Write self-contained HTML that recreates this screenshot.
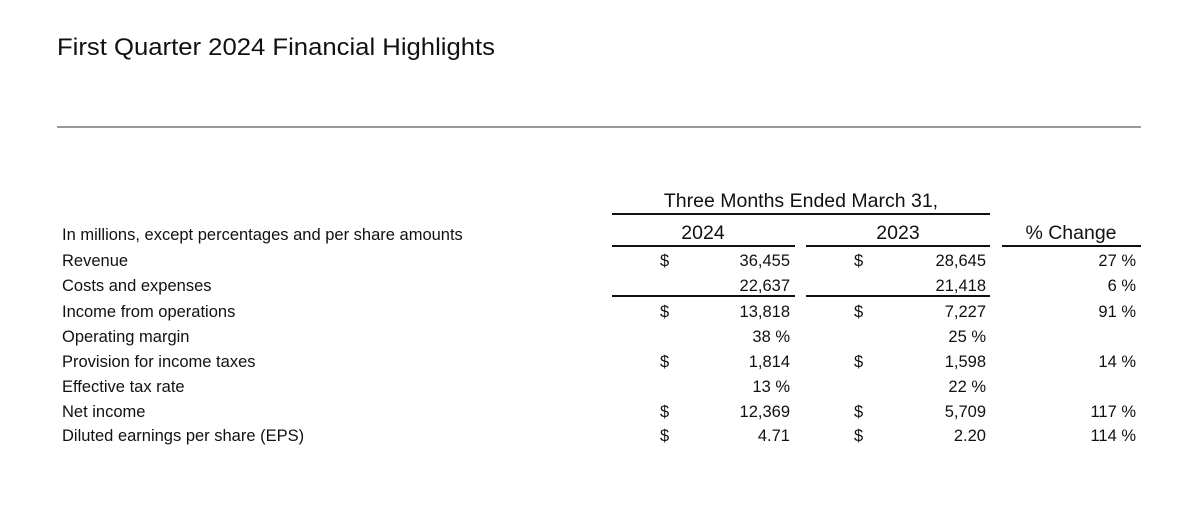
<!DOCTYPE html>
<html><head><meta charset="utf-8"><style>
html,body{margin:0;padding:0;background:#fff;}
svg text{font-family:"Liberation Sans",Arial,sans-serif;fill:#111;}
</style></head><body>
<svg width="1200" height="527" viewBox="0 0 1200 527" xmlns="http://www.w3.org/2000/svg">
<text x="57" y="55" font-size="24" textLength="438" lengthAdjust="spacingAndGlyphs" fill="#222">First Quarter 2024 Financial Highlights</text>
<rect x="57" y="126" width="1084" height="2" fill="#9a9a9a"/>
<g font-size="19.5">
<text x="801" y="207" text-anchor="middle">Three Months Ended March 31,</text>
<text x="703" y="239" text-anchor="middle">2024</text>
<text x="898" y="239" text-anchor="middle">2023</text>
<text x="1071" y="239" text-anchor="middle">% Change</text>
</g>
<rect x="612" y="213" width="378" height="2" fill="#111"/>
<rect x="612" y="245" width="183" height="2" fill="#111"/>
<rect x="806" y="245" width="184" height="2" fill="#111"/>
<rect x="1002" y="245" width="139" height="2" fill="#111"/>
<rect x="612" y="295" width="183" height="2" fill="#111"/>
<rect x="806" y="295" width="184" height="2" fill="#111"/>
<g font-size="16.5">
<text x="62" y="240">In millions, except percentages and per share amounts</text>
<text x="62" y="266">Revenue</text>
<text x="62" y="291">Costs and expenses</text>
<text x="62" y="317">Income from operations</text>
<text x="62" y="342">Operating margin</text>
<text x="62" y="367">Provision for income taxes</text>
<text x="62" y="392">Effective tax rate</text>
<text x="62" y="417">Net income</text>
<text x="62" y="441">Diluted earnings per share (EPS)</text>
</g>
<g font-size="16.5">
<text x="660" y="266">$</text><text x="854" y="266">$</text>
<text x="660" y="317">$</text><text x="854" y="317">$</text>
<text x="660" y="367">$</text><text x="854" y="367">$</text>
<text x="660" y="417">$</text><text x="854" y="417">$</text>
<text x="660" y="441">$</text><text x="854" y="441">$</text>
</g>
<g font-size="16.5" text-anchor="end">
<text x="790" y="266">36,455</text><text x="986" y="266">28,645</text><text x="1136" y="266">27 %</text>
<text x="790" y="291">22,637</text><text x="986" y="291">21,418</text><text x="1136" y="291">6 %</text>
<text x="790" y="317">13,818</text><text x="986" y="317">7,227</text><text x="1136" y="317">91 %</text>
<text x="790" y="342">38 %</text><text x="986" y="342">25 %</text>
<text x="790" y="367">1,814</text><text x="986" y="367">1,598</text><text x="1136" y="367">14 %</text>
<text x="790" y="392">13 %</text><text x="986" y="392">22 %</text>
<text x="790" y="417">12,369</text><text x="986" y="417">5,709</text><text x="1136" y="417">117 %</text>
<text x="790" y="441">4.71</text><text x="986" y="441">2.20</text><text x="1136" y="441">114 %</text>
</g>
</svg>
</body></html>
